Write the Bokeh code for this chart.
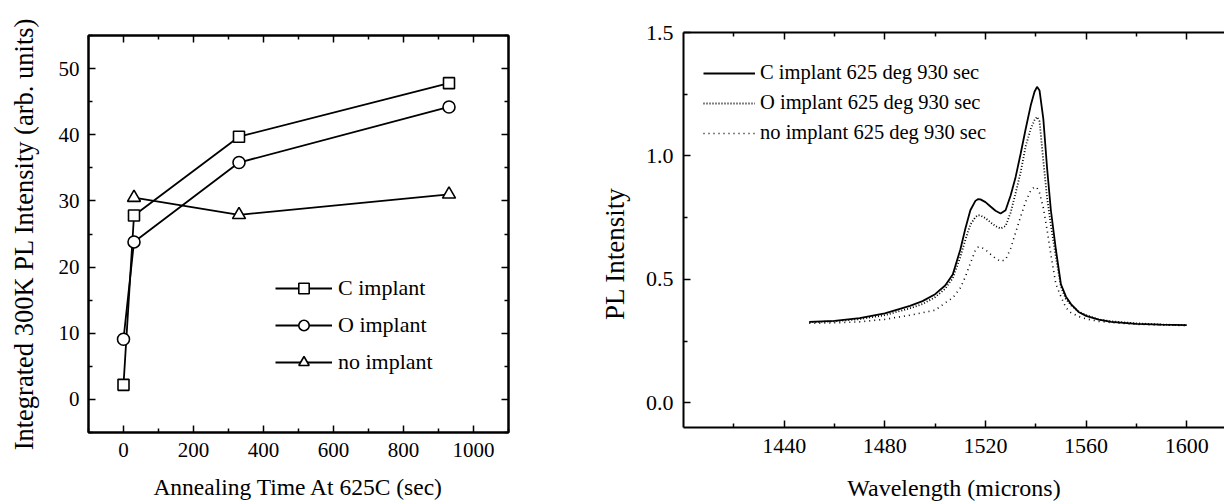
from bokeh.embed import file_html
from bokeh.layouts import row
from bokeh.models import (FixedTicker, Legend, LegendItem, LinearAxis,
                          PrintfTickFormatter, Range1d)
from bokeh.plotting import figure
from bokeh.resources import INLINE

FONT = "Liberation Serif"
NBSP = "\u00a0"

# ---- integrated PL vs annealing time ----
anneal_time = [0, 30, 330, 930]
c_implant = [2.2, 27.8, 39.7, 47.8]
o_implant = [9.1, 23.8, 35.8, 44.2]
none_time = [30, 330, 930]
no_implant = [30.5, 27.9, 31.0]

anneal_xticks = [0, 200, 400, 600, 800, 1000]
anneal_xminor = [-100, 100, 300, 500, 700, 900, 1100]
anneal_yticks = [0, 10, 20, 30, 40, 50]
anneal_yminor = [-5, 5, 15, 25, 35, 45, 55]

# ---- PL spectra after 930 s at 625 deg ----
wavelength = [1450, 1460, 1470, 1480, 1490, 1495, 1500, 1504, 1507, 1510,
              1512, 1514, 1516, 1517, 1518, 1520, 1522, 1524, 1526, 1528,
              1530, 1532, 1534, 1536, 1538, 1539.5, 1540.5, 1541.5, 1543, 1544.5,
              1546, 1548, 1550, 1552, 1554, 1557, 1560, 1565, 1570, 1580,
              1590, 1600]
pl_c = [0.328, 0.332, 0.343, 0.362, 0.393, 0.412, 0.440, 0.475, 0.520, 0.620,
        0.705, 0.780, 0.818, 0.825, 0.824, 0.813, 0.795, 0.778, 0.767, 0.780,
        0.840, 0.915, 1.010, 1.110, 1.205, 1.260, 1.280, 1.265, 1.150, 0.950,
        0.780, 0.620, 0.480, 0.430, 0.400, 0.368, 0.352, 0.337, 0.328, 0.320,
        0.317, 0.315]
pl_o = [0.326, 0.330, 0.339, 0.355, 0.383, 0.400, 0.428, 0.462, 0.505, 0.590,
        0.660, 0.722, 0.752, 0.760, 0.759, 0.748, 0.731, 0.716, 0.706, 0.716,
        0.770, 0.850, 0.935, 1.040, 1.110, 1.145, 1.158, 1.140, 0.980, 0.830,
        0.720, 0.590, 0.470, 0.420, 0.395, 0.370, 0.355, 0.338, 0.330, 0.322,
        0.317, 0.314]
pl_none = [0.322, 0.324, 0.328, 0.338, 0.355, 0.365, 0.375, 0.405, 0.425, 0.465,
           0.510, 0.565, 0.618, 0.630, 0.632, 0.620, 0.602, 0.585, 0.573, 0.580,
           0.625, 0.690, 0.755, 0.815, 0.860, 0.875, 0.870, 0.850, 0.790, 0.700,
           0.600, 0.480, 0.430, 0.385, 0.365, 0.350, 0.340, 0.330, 0.325, 0.318,
           0.315, 0.313]

wl_ticks = [1440, 1480, 1520, 1560, 1600]
wl_minor = [1420, 1460, 1500, 1540, 1580]
pl_ticks = [0.0, 0.5, 1.0, 1.5]
pl_minor = [-0.25, 0.25, 0.75, 1.25]


def style_axis(ax, size, show_labels=True):
    ax.axis_line_width = 2
    ax.axis_line_color = "black"
    ax.major_tick_in = 7
    ax.major_tick_out = 0
    ax.minor_tick_in = 4
    ax.minor_tick_out = 0
    ax.major_tick_line_width = 1.5
    ax.minor_tick_line_width = 1.5
    ax.major_tick_line_color = "black"
    ax.minor_tick_line_color = "black"
    ax.major_label_text_font = FONT
    ax.major_label_text_line_height = 1.0
    ax.axis_label_text_font = FONT
    ax.axis_label_text_font_style = "normal"
    ax.axis_label_text_color = "black"
    ax.axis_label_text_line_height = 1.0
    if show_labels:
        ax.major_label_text_font_size = size
        ax.major_label_text_color = "black"
    else:
        # mirrored axis: ticks only
        ax.major_label_text_font_size = "1px"
        ax.major_label_text_color = None
        ax.major_label_standoff = 0


# ---------------- left panel ----------------
left = figure(width=590, height=504, output_backend="svg", toolbar_location=None,
              x_range=Range1d(-100, 1100), y_range=Range1d(-5, 55),
              x_axis_location=None, y_axis_location=None,
              min_border_left=88, min_border_right=82,
              min_border_top=35, min_border_bottom=72)
left.frame_align = False
left.grid.visible = False
left.outline_line_color = "black"
left.outline_line_width = 2
left.background_fill_color = "white"
left.border_fill_color = "white"

xt = FixedTicker(ticks=anneal_xticks, minor_ticks=anneal_xminor)
yt = FixedTicker(ticks=anneal_yticks, minor_ticks=anneal_yminor)
for loc, show in (("below", True), ("above", False)):
    ax = LinearAxis(ticker=xt)
    style_axis(ax, "21px", show)
    if loc == "below":
        ax.axis_label = "Annealing Time At 625C (sec)"
        ax.axis_label_text_font_size = "23.5px"
        ax.major_label_standoff = 10
        ax.axis_label_standoff = 14
    left.add_layout(ax, loc)
for loc, show in (("left", True), ("right", False)):
    ax = LinearAxis(ticker=yt)
    style_axis(ax, "21px", show)
    if loc == "left":
        ax.axis_label = "Integrated 300K PL Intensity (arb. units)"
        ax.axis_label_text_font_size = "26.5px"
        ax.major_label_standoff = 9
        ax.axis_label_standoff = 17
    left.add_layout(ax, loc)

lc = left.line(anneal_time, c_implant, line_color="black", line_width=1.8)
sc = left.scatter(anneal_time, c_implant, marker="square", size=11,
                  fill_color="white", line_color="black", line_width=1.6)
lo = left.line(anneal_time, o_implant, line_color="black", line_width=1.8)
so = left.scatter(anneal_time, o_implant, marker="circle", size=12,
                  fill_color="white", line_color="black", line_width=1.6)
ln = left.line(none_time, no_implant, line_color="black", line_width=1.8)
sn = left.scatter(none_time, no_implant, marker="triangle", size=13,
                  fill_color="white", line_color="black", line_width=1.6)

left_legend = Legend(
    items=[LegendItem(label="C implant", renderers=[lc, sc]),
           LegendItem(label="O implant", renderers=[lo, so]),
           LegendItem(label="no implant", renderers=[ln, sn])],
    location=(187, 57), padding=0, margin=0, spacing=11,
    glyph_width=57, glyph_height=26, label_height=26, label_standoff=6,
    border_line_color=None, background_fill_alpha=0,
    label_text_font=FONT, label_text_font_size="22px", label_text_color="black")
left.add_layout(left_legend, "center")

# ---------------- right panel ----------------
right = figure(width=634, height=504, output_backend="svg", toolbar_location=None,
               x_range=Range1d(1400, 1615), y_range=Range1d(-0.1, 1.5),
               x_axis_location=None, y_axis_location=None,
               min_border_left=93, min_border_right=0,
               min_border_top=32, min_border_bottom=77)
right.frame_align = False
right.grid.visible = False
right.outline_line_color = None
right.background_fill_color = "white"
right.border_fill_color = "white"

wt = FixedTicker(ticks=wl_ticks, minor_ticks=wl_minor)
pt = FixedTicker(ticks=pl_ticks, minor_ticks=pl_minor)
for loc, show in (("below", True), ("above", False)):
    ax = LinearAxis(ticker=wt)
    style_axis(ax, "22px", show)
    if loc == "below":
        ax.axis_label = "Wavelength (microns)"
        ax.axis_label_text_font_size = "24px"
        ax.major_label_standoff = 11
        ax.axis_label_standoff = 19
    right.add_layout(ax, loc)
ay = LinearAxis(ticker=pt, formatter=PrintfTickFormatter(format="%.1f"))
style_axis(ay, "22px", True)
ay.major_label_standoff = 10
# trailing no-break spaces push the rotated title down the axis
ay.axis_label = "PL Intensity" + NBSP * 7
ay.axis_label_text_font_size = "27px"
ay.axis_label_standoff = 13
right.add_layout(ay, "left")

rc = right.line(wavelength, pl_c, line_color="black", line_width=1.8)
ro = right.line(wavelength, pl_o, line_color="black", line_width=1.8,
                line_dash="1 2")
rn = right.line(wavelength, pl_none, line_color="black", line_width=1.6,
                line_dash="1 4")

right_legend = Legend(
    items=[LegendItem(label="C implant 625 deg 930 sec", renderers=[rc]),
           LegendItem(label="O implant 625 deg 930 sec", renderers=[ro]),
           LegendItem(label="no implant 625 deg 930 sec", renderers=[rn])],
    location=(20, 283), padding=0, margin=0, spacing=7,
    glyph_width=52, glyph_height=22, label_height=22, label_standoff=5,
    border_line_color=None, background_fill_alpha=0,
    label_text_font=FONT, label_text_font_size="20.5px", label_text_color="black")
right.add_layout(right_legend, "center")

layout = row(left, right, spacing=0)
open("out.html", "w").write(file_html(layout, INLINE))
